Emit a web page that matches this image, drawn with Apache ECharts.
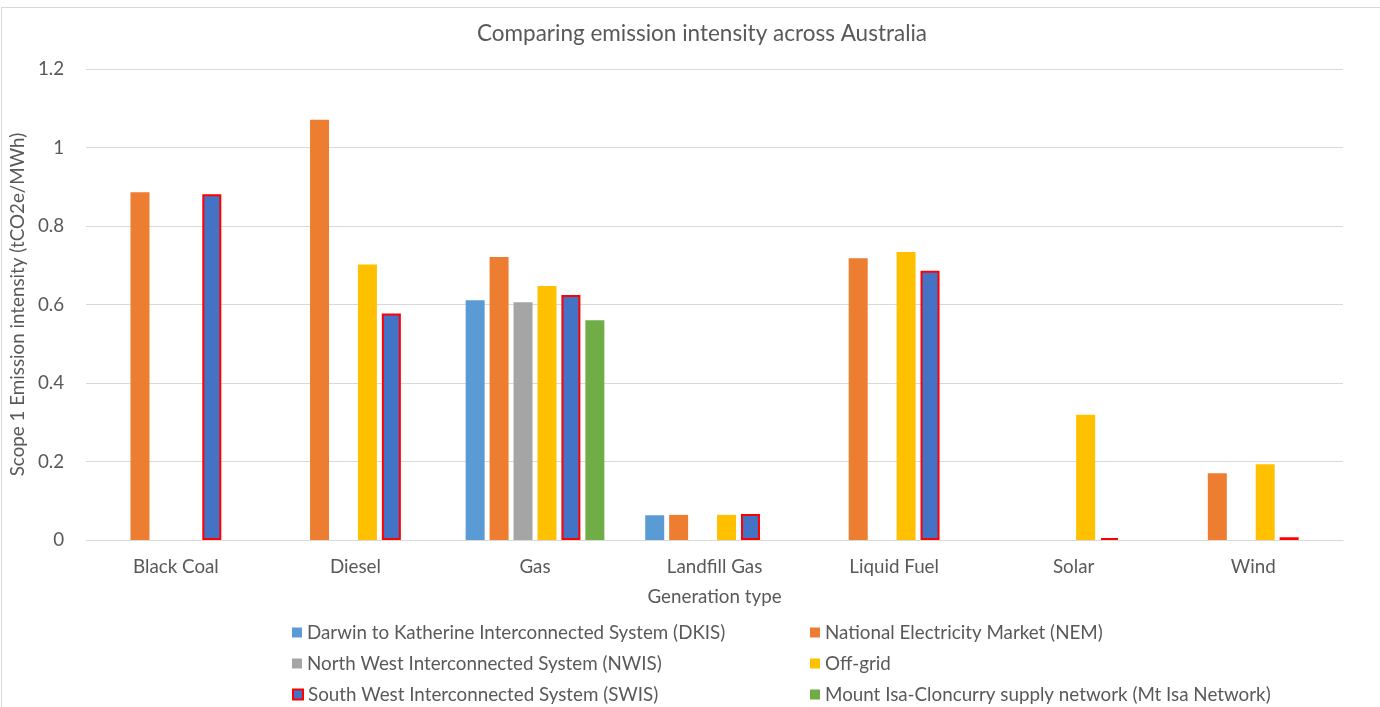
<!DOCTYPE html>
<html>
<head>
<meta charset="utf-8">
<script src="https://cdn.jsdelivr.net/npm/echarts@6/dist/echarts.min.js"></script>
<style>
  html, body { margin: 0; padding: 0; background: #fff; overflow: hidden; }
  #frame { position: absolute; left: 1px; top: 7px; width: 1400px; height: 720px;
           border-top: 1px solid #d9d9d9; border-left: 1px solid #d9d9d9; box-sizing: border-box; }
  #chart { position: absolute; left: 0; top: 0; width: 1380px; height: 707px; }
</style>
</head>
<body>
<div id="frame"></div>
<div id="chart"></div>
<script>
// Generation types along the x axis
const categories = ['Black Coal', 'Diesel', 'Gas', 'Landfill Gas', 'Liquid Fuel', 'Solar', 'Wind'];

// Scope 1 emission intensity (tCO2e/MWh) per network; null = no generation of that type
const dkis   = [null,  null,  0.611, 0.063, null,  null,  null];
const nem    = [0.886, 1.071, 0.721, 0.064, 0.718, null,  0.170];
const nwis   = [null,  null,  0.606, null,  null,  null,  null];
const offGrid= [null,  0.702, 0.647, 0.064, 0.734, 0.319, 0.193];
const swis   = [0.881, 0.577, 0.624, 0.066, 0.686, 0.005, 0.007];
const mtIsa  = [null,  null,  0.560, null,  null,  null,  null];

const yTicks = [0, 0.2, 0.4, 0.6, 0.8, 1, 1.2];

const seriesNames = [
  'Darwin to Katherine Interconnected System (DKIS)',
  'National Electricity Market (NEM)',
  'North West Interconnected System (NWIS)',
  'Off-grid',
  'South West Interconnected System (SWIS)',
  'Mount Isa-Cloncurry supply network (Mt Isa Network)'
];
const seriesData = [dkis, nem, nwis, offGrid, swis, mtIsa];
const colors = ['#5B9BD5', '#ED7D31', '#A5A5A5', '#FFC000', '#4472C4', '#70AD47'];

const FONT = 'Lato, "Open Sans", sans-serif';
const TEXT = '#595959';
const FS = 18.8;

const series = seriesNames.map((name, i) => {
  const s = {
    name: name,
    type: 'bar',
    data: seriesData[i],
    barWidth: 19,
    barGap: '26%',
    itemStyle: { color: colors[i] }
  };
  if (i === 4) {
    s.itemStyle = { color: colors[i], borderColor: '#FF0000', borderWidth: 2 };
  }
  return s;
});

// Legend: two columns, three rows
const legendPos = [
  { left: 292, top: 623 }, { left: 810, top: 623 },
  { left: 292, top: 654 }, { left: 810, top: 654 },
  { left: 292, top: 685 }, { left: 810, top: 685 }
];
const legends = seriesNames.map((name, i) => ({
  data: [{ name: name, itemStyle: i === 4 ? { color: colors[i], borderColor: '#FF0000', borderWidth: 2 } : { color: colors[i] } }],
  left: legendPos[i].left,
  top: legendPos[i].top,
  icon: 'rect',
  itemWidth: 10,
  itemHeight: 10,
  itemGap: 0,
  padding: 0,
  selectedMode: false,
  textStyle: { color: TEXT, fontSize: FS, fontFamily: FONT }
}));

const chart = echarts.init(document.getElementById('chart'), null, { renderer: 'canvas' });
chart.setOption({
  animation: false,
  backgroundColor: 'transparent',
  title: {
    text: 'Comparing emission intensity across Australia',
    left: 697,
    textAlign: 'center',
    top: 17,
    textStyle: { color: TEXT, fontSize: 22.5, fontWeight: 'normal', fontFamily: FONT }
  },
  legend: legends,
  grid: { left: 81, right: 37, top: 69, bottom: 167 },
  xAxis: {
    type: 'category',
    data: categories,
    name: 'Generation type',
    nameLocation: 'middle',
    nameGap: 47,
    nameTextStyle: { color: TEXT, fontSize: FS, fontFamily: FONT },
    axisLine: { lineStyle: { color: '#d9d9d9', width: 1 } },
    axisTick: { show: false },
    axisLabel: { color: TEXT, fontSize: FS, fontFamily: FONT, margin: 17 }
  },
  yAxis: {
    type: 'value',
    min: yTicks[0],
    max: yTicks[yTicks.length - 1],
    interval: 0.2,
    name: 'Scope 1 Emission intensity (tCO2e/MWh)',
    nameLocation: 'middle',
    nameGap: 56,
    nameTextStyle: { color: TEXT, fontSize: FS, fontFamily: FONT },
    axisLine: { show: false },
    axisTick: { show: false },
    splitLine: { lineStyle: { color: '#d9d9d9', width: 1 } },
    axisLabel: {
      color: TEXT, fontSize: FS, fontFamily: FONT, margin: 22,
      formatter: v => String(Math.round(v * 10) / 10)
    }
  },
  series: series
});
</script>
</body>
</html>
